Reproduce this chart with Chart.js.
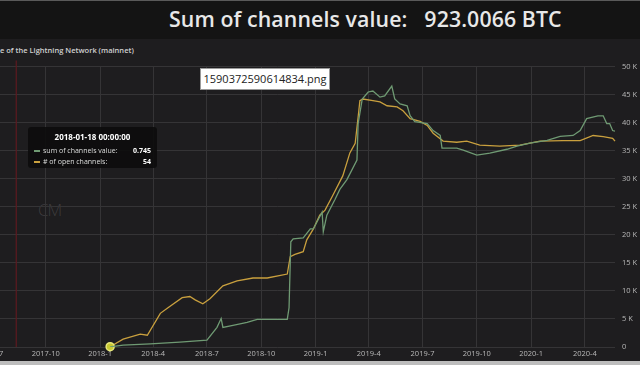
<!DOCTYPE html>
<html>
<head>
<meta charset="utf-8">
<script src="https://cdn.jsdelivr.net/npm/chart.js@4.4.1/dist/chart.umd.min.js"></script>
<style>
  html, body { margin: 0; padding: 0; width: 640px; height: 365px; overflow: hidden; background: #1e1d1f; font-family: "Open Sans", "Noto Sans", sans-serif; }
  #top { position: absolute; left: 0; top: 0; width: 640px; height: 39px; background: #141414; border-top: 1px solid #5a5a5a; box-sizing: border-box; }
  #big { position: absolute; left: 169px; top: 3px; color: #e8e8e8; font-size: 21.3px; font-weight: 600; white-space: pre; letter-spacing: 0.1px; }
  #sub { position: absolute; left: 0; top: 45px; color: #d0d0d0; font-size: 7.5px; font-weight: 600; white-space: pre; }
  #wrap { position: absolute; left: -60px; top: 55px; width: 700px; height: 305px; }
  #bottom { position: absolute; left: 0; top: 361px; width: 640px; height: 4px; background: #bdbdbd; }
  #fname { position: absolute; left: 200px; top: 68px; width: 130px; height: 22px; background: #fff; border: 1px solid #9a9a9a; box-sizing: border-box; color: #222; font-size: 11px; line-height: 20px; text-align: center; }
  #logo { position: absolute; left: 38px; top: 198px; color: rgba(120,120,120,0.35); font-size: 17px; font-weight: 300; letter-spacing: -1px; }
  #tip { position: absolute; background: rgba(12,12,12,0.9); border-radius: 3px; color: #ddd; font-size: 7px; pointer-events: none; padding: 4px 6px 3px 6px; box-sizing: border-box; }
  #tip .t { text-align: center; font-weight: 700; color: #fff; font-size: 8px; margin-bottom: 3px; }
  #tip .r { display: flex; align-items: center; height: 11px; }
  #tip .s { width: 6px; height: 2px; margin-right: 3px; }
  #tip .v { margin-left: auto; font-weight: 700; color: #fff; }
</style>
</head>
<body>
<div id="top"><div id="big">Sum of channels value:   923.0066 BTC</div></div>
<div id="sub">e of the Lightning Network (mainnet)</div>
<div id="logo">CM</div>
<div id="wrap"><canvas id="chart"></canvas></div>
<div id="fname">1590372590614834.png</div>
<div id="tip"></div>
<div id="bottom"></div>
<script>
// x axis tick labels (quarters)
var tickLabels = ["2017-7", "2017-10", "2018-1", "2018-4", "2018-7", "2018-10",
  "2019-1", "2019-4", "2019-7", "2019-10", "2020-1", "2020-4"];

// sum of channels value (BTC)
var valueDates = ["2018-01-18", "2018-02-09", "2018-03-27", "2018-05-16", "2018-07-01", "2018-07-18",
  "2018-07-25", "2018-07-28", "2018-08-14", "2018-09-07", "2018-09-24", "2018-11-14", "2018-11-17",
  "2018-11-20", "2018-11-24", "2018-12-11", "2018-12-23", "2018-12-28", "2019-01-12", "2019-01-14",
  "2019-01-20", "2019-02-03", "2019-02-11", "2019-02-23", "2019-03-12", "2019-03-14", "2019-03-21",
  "2019-03-31", "2019-04-08", "2019-04-20", "2019-04-28", "2019-05-10", "2019-05-15", "2019-05-24",
  "2019-06-05", "2019-06-10", "2019-06-18", "2019-07-09", "2019-07-19", "2019-07-31", "2019-08-03",
  "2019-08-28", "2019-09-08", "2019-10-01", "2019-10-23", "2019-11-21", "2019-12-08", "2019-12-30",
  "2020-01-28", "2020-02-19", "2020-03-12", "2020-03-24", "2020-04-04", "2020-04-23", "2020-05-02",
  "2020-05-08", "2020-05-13", "2020-05-18", "2020-05-22"];
var valueBtc = [0.745, 8, 13, 21, 29, 84,
  122, 84, 93, 105, 118, 118, 168,
  450, 463, 467, 505, 505, 577, 493,
  564, 632, 674, 716, 800, 956, 1061,
  1091, 1095, 1069, 1074, 1116, 1061, 1040,
  1032, 990, 964, 956, 926, 905, 851,
  851, 842, 821, 829, 846, 859, 872,
  884, 901, 905, 926, 977, 989, 989,
  956, 956, 926, 923.0066];

// # of open channels
var chanDates = ["2018-01-18", "2018-02-09", "2018-03-10", "2018-03-22", "2018-04-13", "2018-04-26",
  "2018-05-20", "2018-06-02", "2018-06-11", "2018-06-24", "2018-07-06", "2018-07-28", "2018-08-21",
  "2018-09-17", "2018-10-11", "2018-11-14", "2018-11-19", "2018-11-27", "2018-12-11", "2018-12-17",
  "2018-12-28", "2019-01-08", "2019-01-17", "2019-01-30", "2019-02-16", "2019-02-28", "2019-03-09",
  "2019-03-14", "2019-03-17", "2019-03-22", "2019-04-08", "2019-04-20", "2019-05-02", "2019-05-19",
  "2019-05-29", "2019-06-10", "2019-06-27", "2019-07-09", "2019-07-19", "2019-08-05", "2019-08-28",
  "2019-09-14", "2019-10-06", "2019-11-09", "2019-12-13", "2020-01-16", "2020-02-24", "2020-03-24",
  "2020-04-15", "2020-05-02", "2020-05-18", "2020-05-22"];
var chanCount = [54, 1400, 2300, 2100, 6000, 7000,
  8800, 9000, 8400, 7700, 8600, 10900, 11800,
  12300, 12300, 13000, 16100, 16500, 17000, 19100,
  21000, 23500, 24400, 27000, 30500, 34600, 36300,
  41000, 43900, 44200, 43900, 43700, 43000, 42800,
  42100, 40700, 40200, 39500, 38100, 36700, 36500,
  36700, 36000, 35800, 36000, 36700, 36800, 36800,
  37700, 37500, 37200, 36700];

var markerDate = "2017-08-12";
var xMin = Date.UTC(2017, 3, 6);
var xMax = Date.UTC(2020, 4, 22);

function toTs(d) { return Date.parse(d + "T00:00:00Z"); }
function pad(n) { return (n < 10 ? "0" : "") + n; }
function fmtDate(ts) {
  var d = new Date(ts);
  return d.getUTCFullYear() + "-" + pad(d.getUTCMonth() + 1) + "-" + pad(d.getUTCDate()) + " 00:00:00";
}

var tickValues = tickLabels.map(function (l) {
  var p = l.split("-");
  return Date.UTC(+p[0], +p[1] - 1, 1);
});

var valuePoints = valueDates.map(function (d, i) { return { x: toTs(d), y: valueBtc[i] }; });
var chanPoints = chanDates.map(function (d, i) { return { x: toTs(d), y: chanCount[i] }; });

var markerLine = {
  id: "markerLine",
  beforeDatasetsDraw: function (chart) {
    var ctx = chart.ctx, a = chart.chartArea;
    var x = chart.scales.x.getPixelForValue(toTs(markerDate));
    ctx.save();
    ctx.strokeStyle = "#5e1a20";
    ctx.lineWidth = 1.2;
    ctx.beginPath();
    ctx.moveTo(x, a.top - 6);
    ctx.lineTo(x, a.bottom);
    ctx.stroke();
    ctx.restore();
  }
};

function externalTip(context) {
  var tt = context.tooltip;
  var el = document.getElementById("tip");
  if (tt.opacity === 0) { el.style.display = "none"; return; }
  var html = '<div class="t">' + fmtDate(tt.dataPoints[0].parsed.x) + '</div>';
  tt.dataPoints.forEach(function (p) {
    html += '<div class="r"><span class="s" style="background:' + p.dataset.borderColor + '"></span>' +
      '<span>' + p.dataset.label + ':</span><span class="v">' + p.formattedValue + '</span></div>';
  });
  el.innerHTML = html;
  el.style.display = "block";
  el.style.left = "28px";
  el.style.top = "127px";
  el.style.width = "129px";
  el.style.height = "41px";
}

var chart = new Chart(document.getElementById("chart"), {
  type: "line",
  data: {
    datasets: [
      {
        label: "sum of channels value",
        data: valuePoints,
        yAxisID: "y",
        borderColor: "#6f9a73",
        backgroundColor: "#6f9a73",
        borderWidth: 1.3,
        pointRadius: 0,
        pointHoverRadius: 0,
        tension: 0
      },
      {
        label: "# of open channels",
        data: chanPoints,
        yAxisID: "y1",
        clip: false,
        borderColor: "#c9a03e",
        backgroundColor: "#c9a03e",
        borderWidth: 1.3,
        pointRadius: 0,
        pointHoverRadius: 4,
        pointHoverBackgroundColor: "#c8c832",
        pointHoverBorderColor: "#e8e87a",
        pointHoverBorderWidth: 1.5,
        tension: 0
      }
    ]
  },
  options: {
    responsive: true,
    maintainAspectRatio: false,
    animation: false,
    layout: { padding: { top: 7, left: 0, right: 0, bottom: 0 } },
    interaction: { mode: "index", intersect: false },
    plugins: {
      legend: { display: false },
      title: { display: false },
      tooltip: {
        enabled: false,
        external: externalTip
      }
    },
    scales: {
      x: {
        type: "linear",
        min: xMin,
        max: xMax,
        afterBuildTicks: function (scale) {
          scale.ticks = tickValues.filter(function (v) { return v >= xMin && v <= xMax; })
            .map(function (v) { return { value: v }; });
        },
        afterFit: function (scale) { scale.height = 13; },
        ticks: {
          autoSkip: false,
          maxRotation: 0,
          padding: 2,
          color: "#b8b8b8",
          font: { family: "Open Sans", size: 7.5 },
          callback: function (v) {
            var i = tickValues.indexOf(v);
            return i >= 0 ? tickLabels[i] : "";
          }
        },
        grid: { color: "#353436", lineWidth: 1, drawTicks: false },
        border: { display: false }
      },
      y: {
        display: false,
        min: 0,
        max: 1200
      },
      y1: {
        position: "right",
        min: 0,
        max: 50000,
        afterFit: function (scale) { scale.width = 25; },
        ticks: {
          stepSize: 5000,
          padding: 7,
          color: "#b8b8b8",
          font: { family: "Open Sans", size: 7.5 },
          callback: function (v) { return v === 0 ? "0" : (v / 1000) + " K"; }
        },
        grid: { color: "#353436", lineWidth: 1, drawTicks: false },
        border: { display: false }
      }
    }
  },
  plugins: [markerLine]
});

var active = [{ datasetIndex: 0, index: 0 }, { datasetIndex: 1, index: 0 }];
var hp = chart.getDatasetMeta(1).data[0];
chart.setActiveElements(active);
chart.tooltip.setActiveElements(active, { x: hp.x, y: hp.y });
chart.update();
</script>
</body>
</html>
